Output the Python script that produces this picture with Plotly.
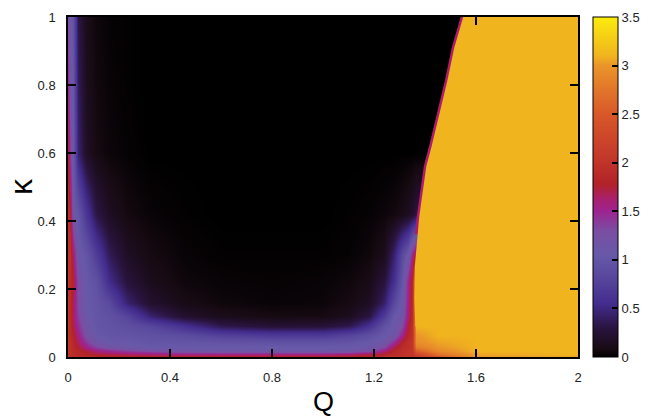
import plotly.graph_objects as go

# Grid nodes
Q_NODES = [0, 0.008, 0.02, 0.04, 0.07, 0.11, 0.16, 0.23, 0.32, 0.45, 0.6, 0.8,
           1.0, 1.1, 1.18, 1.24, 1.28, 1.31, 1.335, 1.35, 1.365, 1.45, 1.6, 2.0]
K_NODES = [0, 0.008, 0.018, 0.03, 0.045, 0.065, 0.09, 0.12, 0.16, 0.22, 0.3,
           0.42, 0.6, 0.8, 1.0]

# Estimated field values, one list per K row
Z_K000 = [2.0, 2.0, 1.95, 1.9, 1.9, 1.85, 1.85, 1.85, 1.85, 1.85, 1.85, 1.85,
          1.85, 1.85, 1.9, 1.95, 2.0, 2.0, 2.0, 2.0, 2.05, 2.4, 3.0, 3.05]
Z_K008 = [2.0, 1.95, 1.9, 1.85, 1.8, 1.75, 1.7, 1.65, 1.6, 1.55, 1.55, 1.55,
          1.55, 1.6, 1.7, 1.8, 1.9, 1.95, 2.0, 2.0, 2.2, 2.7, 3.05, 3.1]
Z_K018 = [2.0, 1.95, 1.9, 1.85, 1.75, 1.6, 1.5, 1.4, 1.3, 1.2, 1.15, 1.12,
          1.12, 1.15, 1.3, 1.6, 1.85, 1.95, 2.0, 2.0, 2.5, 2.9, 3.1, 3.1]
Z_K030 = [2.0, 1.95, 1.85, 1.75, 1.55, 1.35, 1.2, 1.1, 1.05, 1.05, 1.05, 1.05,
          1.05, 1.05, 1.1, 1.3, 1.7, 1.9, 1.95, 2.0, 2.8, 3.0, 3.1, 3.1]
Z_K045 = [2.0, 1.95, 1.85, 1.65, 1.4, 1.15, 1.05, 1.05, 1.0, 1.0, 0.98, 0.95,
          0.95, 0.98, 1.05, 1.15, 1.45, 1.8, 1.95, 2.0, 2.95, 3.05, 3.1, 3.1]
Z_K065 = [2.0, 1.9, 1.8, 1.55, 1.25, 1.05, 1.0, 0.98, 0.95, 0.88, 0.75, 0.68,
          0.68, 0.78, 0.92, 1.05, 1.15, 1.5, 1.85, 1.95, 3.0, 3.1, 3.1, 3.1]
Z_K090 = [2.0, 1.9, 1.7, 1.45, 1.15, 1.0, 0.98, 0.92, 0.82, 0.6, 0.35, 0.25,
          0.26, 0.35, 0.6, 0.95, 1.1, 1.3, 1.75, 1.95, 3.1, 3.1, 3.1, 3.1]
Z_K120 = [2.0, 1.9, 1.65, 1.35, 1.1, 1.0, 0.95, 0.8, 0.45, 0.22, 0.12, 0.08,
          0.08, 0.14, 0.3, 0.7, 1.05, 1.15, 1.6, 1.9, 3.1, 3.1, 3.1, 3.1]
Z_K160 = [2.0, 1.9, 1.65, 1.3, 1.05, 1.0, 0.85, 0.45, 0.22, 0.1, 0.05, 0.03,
          0.04, 0.08, 0.16, 0.42, 0.85, 1.1, 1.55, 1.9, 3.1, 3.1, 3.1, 3.1]
Z_K220 = [2.0, 1.9, 1.8, 1.25, 1.05, 0.95, 0.55, 0.28, 0.13, 0.05, 0.03, 0.02,
          0.03, 0.05, 0.1, 0.28, 0.6, 1.0, 1.5, 1.85, 3.1, 3.1, 3.1, 3.1]
Z_K300 = [2.0, 1.95, 1.6, 1.1, 1.0, 0.72, 0.38, 0.17, 0.08, 0.03, 0.01, 0.01,
          0.01, 0.02, 0.05, 0.13, 0.45, 0.85, 1.1, 1.5, 1.8, 1.8, 1.8, 1.8]
Z_K420 = [1.95, 1.8, 1.1, 1.0, 0.65, 0.32, 0.16, 0.07, 0.03, 0.01, 0.0, 0.0,
          0.0, 0.01, 0.02, 0.04, 0.06, 0.1, 0.15, 0.2, 0.3, 0.3, 0.3, 0.3]
Z_K600 = [1.75, 1.4, 1.05, 0.45, 0.18, 0.08, 0.04, 0.02, 0.0, 0.0, 0.0, 0.0,
          0.0, 0.0, 0.0, 0.0, 0.0, 0.0, 0.0, 0.0, 0.0, 0.0, 0.0, 0.0]
Z_K800 = [1.5, 1.2, 1.0, 0.38, 0.14, 0.06, 0.03, 0.01, 0.0, 0.0, 0.0, 0.0,
          0.0, 0.0, 0.0, 0.0, 0.0, 0.0, 0.0, 0.0, 0.0, 0.0, 0.0, 0.0]
Z_K1000 = [1.3, 1.1, 0.95, 0.32, 0.12, 0.05, 0.02, 0.01, 0.0, 0.0, 0.0, 0.0,
           0.0, 0.0, 0.0, 0.0, 0.0, 0.0, 0.0, 0.0, 0.0, 0.0, 0.0, 0.0]

Z_ROWS = [Z_K000, Z_K008, Z_K018, Z_K030, Z_K045, Z_K065, Z_K090, Z_K120,
          Z_K160, Z_K220, Z_K300, Z_K420, Z_K600, Z_K800, Z_K1000]

# Sharp phase boundary (K, Q)
BOUND_K = [0.09, 0.17, 0.265, 0.36, 0.41, 0.56, 0.62, 0.81, 0.91, 1.0]
BOUND_Q = [1.362, 1.358, 1.36, 1.37, 1.377, 1.405, 1.426, 1.487, 1.515, 1.55]
RIM_START = 3  # rim drawn from this boundary point upward
PLATEAU_VALUE = 3.1

# Colour map
CMAP_VALS = [0, 0.08, 0.3, 0.55, 0.85, 1.05, 1.3, 1.5, 1.62, 1.78, 2.0, 2.5, 3.0, 3.1, 3.5]
CMAP_COLS = ['#000000', '#170a12', '#2a1440', '#432c8e', '#5a4a9e', '#6858a8',
             '#7a4ea2', '#9c2490', '#a82070', '#b22228', '#c0342a', '#d8582a',
             '#ea942a', '#f0b41e', '#fbec0c']
ZMIN, ZMAX = 0.0, 3.5

X_TICKS = [0, 0.4, 0.8, 1.2, 1.6, 2]
Y_TICKS = [0, 0.2, 0.4, 0.6, 0.8, 1]
C_TICKS = [0, 0.5, 1, 1.5, 2, 2.5, 3, 3.5]

colorscale = [[(v - ZMIN) / (ZMAX - ZMIN), c] for v, c in zip(CMAP_VALS, CMAP_COLS)]
plateau_color = CMAP_COLS[CMAP_VALS.index(PLATEAU_VALUE)]

FONT = 'Liberation Sans, Arial, sans-serif'

fig = go.Figure()
fig.add_trace(go.Heatmap(
    x=Q_NODES, y=K_NODES, z=Z_ROWS, zmin=ZMIN, zmax=ZMAX, zsmooth='best',
    colorscale=colorscale, hoverinfo='skip',
    colorbar=dict(
        x=(593 - 68) / 510, xanchor='left', xref='paper',
        y=0.5, yanchor='middle', len=1.0, lenmode='fraction',
        thickness=25, thicknessmode='pixels',
        outlinecolor='black', outlinewidth=1,
        tickvals=C_TICKS, ticktext=[f'{v:g}' for v in C_TICKS],
        ticks='inside', ticklen=6, tickwidth=1.5, tickcolor='black',
        tickfont=dict(family=FONT, size=13, color='#222'),
        xpad=0, ypad=0,
    ),
))

# magenta rim along the boundary
fig.add_trace(go.Scatter(
    x=BOUND_Q[RIM_START:], y=BOUND_K[RIM_START:], mode='lines',
    line=dict(color='#b01c6c', width=5),
    hoverinfo='skip', showlegend=False))

# plateau region right of the boundary
poly_q = BOUND_Q + [2.0, 2.0]
poly_k = BOUND_K + [1.0, BOUND_K[0]]
fig.add_trace(go.Scatter(
    x=poly_q, y=poly_k, mode='lines', fill='toself', fillcolor=plateau_color,
    line=dict(width=0, color=plateau_color), hoverinfo='skip', showlegend=False))

axis_common = dict(
    showgrid=False, zeroline=False, showline=True, linecolor='black', linewidth=1.5,
    mirror='ticks', ticks='inside', ticklen=8, tickwidth=1.5, tickcolor='black',
    tickfont=dict(family=FONT, size=13, color='#222'),
)
fig.update_layout(
    width=653, height=416,
    margin=dict(l=68, r=75, t=17, b=59, autoexpand=False),
    paper_bgcolor='white', plot_bgcolor='white',
    showlegend=False,
    xaxis=dict(range=[0, 2], tickvals=X_TICKS, ticktext=[f'{v:g}' for v in X_TICKS],
               ticklabelstandoff=8, **axis_common),
    yaxis=dict(range=[0, 1], tickvals=Y_TICKS, ticktext=[f'{v:g}' for v in Y_TICKS],
               ticklabelstandoff=8, **axis_common),
    annotations=[
        dict(text='Q', xref='paper', yref='paper', x=0.5, y=0, yanchor='middle',
             xanchor='center', yshift=-45, showarrow=False,
             font=dict(family=FONT, size=27, color='black')),
        dict(text='κ', xref='paper', yref='paper', x=0, y=0.5, xanchor='center',
             yanchor='middle', xshift=-47, textangle=-90, showarrow=False,
             font=dict(family=FONT, size=32, color='black')),
    ],
)

fig.write_html('out.html')
